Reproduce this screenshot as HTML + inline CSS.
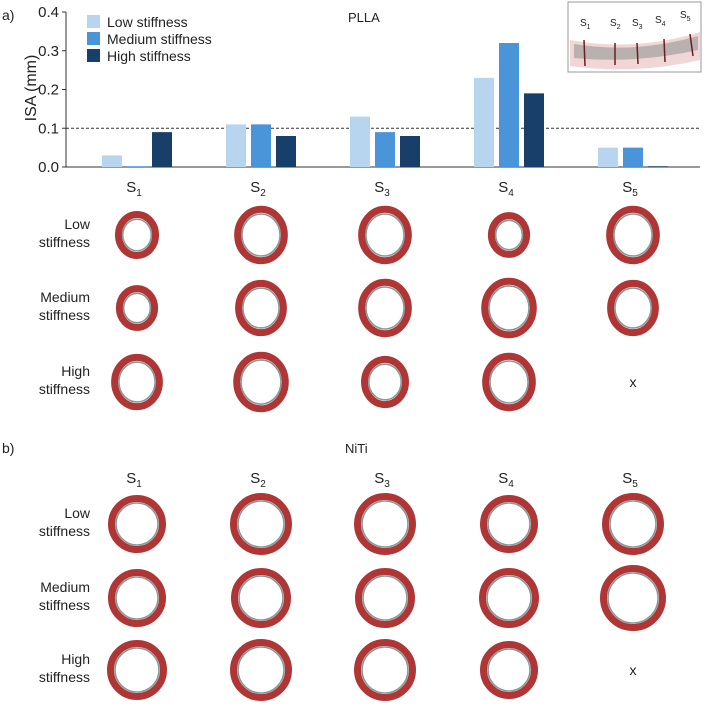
<!DOCTYPE html>
<html><head><meta charset="utf-8"><style>
body{margin:0;background:#fff;}
svg text{font-family:"Liberation Sans",sans-serif;fill:#222;}
</style></head><body>
<svg id="c" width="709" height="704" xmlns="http://www.w3.org/2000/svg">
<text x="2" y="20" font-size="14">a)</text>
<text x="348" y="22" font-size="13">PLLA</text>
<text transform="translate(36,88) rotate(-90)" text-anchor="middle" font-size="16">ISA (mm)</text>
<g id="axes"></g><g id="bars"></g>
<g>
<rect x="87" y="15" width="13" height="13" fill="#b7d5ef"/>
<text x="107" y="27" font-size="14">Low stiffness</text>
<rect x="87" y="32" width="13" height="13" fill="#4a95da"/>
<text x="107" y="44" font-size="14">Medium stiffness</text>
<rect x="87" y="49" width="13" height="13" fill="#173f69"/>
<text x="107" y="61" font-size="14">High stiffness</text>
</g>
<g>
<rect x="568" y="2" width="133" height="70" fill="#fff" stroke="#999"/>
<path d="M570 40 Q635 52 700 32 L700 60 Q635 75 570 66 Z" fill="#f0d6d6"/>
<path d="M574 44 Q635 54 698 36 L698 50 Q635 64 574 58 Z" fill="#b9b0b0"/>
<g stroke="#6b1d24" stroke-width="1.5"><line x1="584" y1="40" x2="585" y2="66"/><line x1="615" y1="43" x2="615" y2="65"/><line x1="637" y1="43" x2="638" y2="64"/><line x1="664" y1="39" x2="665" y2="62"/><line x1="690" y1="34" x2="693" y2="56"/></g>
<g font-size="10"><text x="580" y="26">S<tspan font-size="7" dy="3">1</tspan></text><text x="610" y="26">S<tspan font-size="7" dy="3">2</tspan></text><text x="632" y="26">S<tspan font-size="7" dy="3">3</tspan></text><text x="655" y="23">S<tspan font-size="7" dy="3">4</tspan></text><text x="680" y="18">S<tspan font-size="7" dy="3">5</tspan></text></g>
</g>
<text x="2" y="453" font-size="14">b)</text>
<text x="345" y="453" font-size="13">NiTi</text>
<g id="rings"></g>
</svg>
<script>
const categories=["S1","S2","S3","S4","S5"];
const lowValues=[0.03,0.11,0.13,0.23,0.05];
const mediumValues=[0.002,0.11,0.09,0.32,0.05];
const highValues=[0.09,0.08,0.08,0.19,0.002];
const yTicks=[0.0,0.1,0.2,0.3,0.4];
const threshold=0.1;
const NS="http://www.w3.org/2000/svg";
function mk(t,a,p){const e=document.createElementNS(NS,t);for(const k in a)e.setAttribute(k,a[k]);p.appendChild(e);return e;}
const y0=167,yTop=12,x0=66;
const yS=v=>y0-(v/0.4)*(y0-yTop);
const xC=i=>137+i*124;
const ax=document.getElementById('axes');
let l=mk('line',{x1:x0,y1:yTop,x2:x0,y2:y0,stroke:'#333','stroke-width':1},ax);

l=mk('line',{x1:x0,y1:y0,x2:700,y2:y0,stroke:'#333','stroke-width':1},ax);

yTicks.forEach(v=>{mk('line',{x1:x0-4,x2:x0,y1:yS(v),y2:yS(v),stroke:'#333'},ax);
 const t=mk('text',{x:x0-7,y:yS(v)+5,'text-anchor':'end','font-size':15},ax);t.textContent=v.toFixed(1);
 });
l=mk('line',{x1:x0,x2:700,y1:yS(threshold),y2:yS(threshold),stroke:'#333','stroke-dasharray':'3,2'},ax);

const bg=document.getElementById('bars');
const series=[[lowValues,'#b7d5ef','low'],[mediumValues,'#4a95da','medium'],[highValues,'#173f69','high']];
categories.forEach((c,i)=>{
 series.forEach((s,j)=>{const v=s[0][i];const r=mk('rect',{x:xC(i)-35+j*25,y:yS(v),width:20,height:y0-yS(v),fill:s[1]},bg);
  });
 const t=mk('text',{x:xC(i)-3,y:192,'text-anchor':'middle','font-size':15},bg);
 t.innerHTML='S<tspan font-size="10" dy="4">'+c.slice(1)+'</tspan>';
 
 const t2=mk('text',{x:xC(i)-3,y:483,'text-anchor':'middle','font-size':15},bg);
 t2.innerHTML='S<tspan font-size="10" dy="4">'+c.slice(1)+'</tspan>';
 
});
const rg=document.getElementById('rings');
const rowNames=[['Low','stiffness'],['Medium','stiffness'],['High','stiffness']];
const pllaR=[[23,28,28,22,28],[22,27,28,29,27],[27,29,25,28,0]];
const nitiR=[[29,31,31,29,31],[29,30,30,30,33],[30,31,31,29,0]];
function rowsFor(ys,radii,tag,ell){
 ys.forEach((y,r)=>{
  const t=mk('text',{x:90,y:y-6,'text-anchor':'end','font-size':14},rg);
  t.innerHTML=rowNames[r][0]+'<tspan x="90" dy="18">'+rowNames[r][1]+'</tspan>';
  
  radii[r].forEach((R,i)=>{
   if(!R){const x=mk('text',{x:xC(i),y:y+5,'text-anchor':'middle','font-size':14},rg);x.textContent='x';
     return;}
   const g=mk('g',{},rg);
   mk('ellipse',{cx:xC(i),cy:y,rx:(R-3.5)/ell,ry:(R-3.5)*ell,fill:'none',stroke:'#b03636','stroke-width':7},g);
   mk('ellipse',{cx:xC(i),cy:y,rx:(R-8)/ell,ry:(R-8)*ell,fill:'#fff',stroke:'#8a9a9a','stroke-width':1.6},g);
  });
 });
}
rowsFor([235,308,382],pllaR,'plla',1.05);
rowsFor([524,598,670],nitiR,'niti',1);
</script>
</body></html>
